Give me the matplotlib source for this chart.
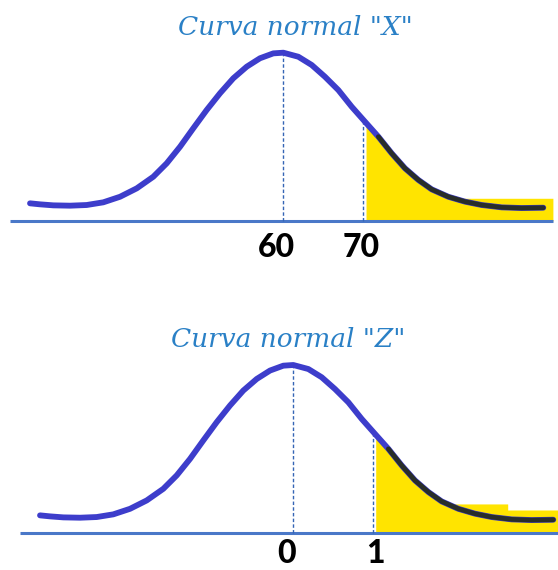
import matplotlib
matplotlib.use("Agg")
import matplotlib.pyplot as plt

# ---------------- data ----------------
# shape of the hand-drawn bell curve: relative height (peak = 1)
curve_height = [0.105, 0.099, 0.093, 0.091, 0.095, 0.111, 0.144, 0.194, 0.263,
                0.343, 0.441, 0.551, 0.660, 0.759, 0.848, 0.917, 0.967, 0.996,
                1.000, 0.976, 0.927, 0.857, 0.778, 0.679, 0.590, 0.501, 0.402,
                0.313, 0.244, 0.188, 0.144, 0.115, 0.095, 0.081, 0.077, 0.079]
# X scale (mean 60)
curve_x_X = [28.34, 29.59, 31.25, 33.34, 35.42, 37.50, 39.59, 41.68, 43.75,
             45.43, 47.09, 48.75, 50.43, 52.09, 53.75, 55.43, 57.09, 58.75,
             60.00, 61.88, 63.55, 65.21, 66.88, 68.55, 70.21, 71.88, 73.55,
             75.21, 76.88, 78.55, 80.63, 82.71, 84.80, 87.30, 89.80, 92.50]
# Z scale (mean 0)
curve_x_Z = [-3.166, -3.041, -2.875, -2.666, -2.458, -2.250, -2.041, -1.832,
             -1.625, -1.457, -1.291, -1.125, -0.957, -0.791, -0.625, -0.457,
             -0.291, -0.125, 0.0, 0.188, 0.355, 0.521, 0.688, 0.855, 1.021,
             1.188, 1.355, 1.521, 1.688, 1.855, 2.063, 2.271, 2.480, 2.730,
             2.980, 3.250]

# shaded (yellow) regions
shade_x_X = [70.34, 71.88, 73.55, 75.21, 76.88, 78.55, 80.63, 81.1, 93.7]
shade_top_X = [0.59, 0.501, 0.402, 0.313, 0.244, 0.188, 0.144, 0.135, 0.135]
shade_x_Z = [1.03, 1.188, 1.355, 1.521, 1.688, 1.855, 1.92, 2.68, 2.68, 3.31]
shade_top_Z = [0.59, 0.501, 0.402, 0.313, 0.244, 0.188, 0.173, 0.173, 0.137, 0.137]

# reference lines and labels
marks_X = [60, 70]
marks_X_height = [1.0, 0.61]
labels_X = ["60", "70"]
marks_Z = [0, 1]
marks_Z_height = [1.0, 0.60]
labels_Z = ["0", "1"]
title_X = 'Curva normal "X"'
title_Z = 'Curva normal "Z"'

# ---------------- styling ----------------
W, H = 558, 570
CURVE = "#3d3dcb"
DARK = "#262b12"
BASE = "#4a78c8"
DASH = "#3565b5"
YELLOW = "#ffe400"
TITLE = "#2a80c6"

fig = plt.figure(figsize=(W / 100, H / 100), dpi=100)
fig.patch.set_facecolor("white")


def make_panel(rect_px, x_at_px0, x_per_px, base_px, unit_px):
    """rect_px = (top, bottom) in figure pixels; returns axes and px->data helpers."""
    top, bottom = rect_px
    ax = fig.add_axes([0, 1 - bottom / H, 1, (bottom - top) / H])
    ax.set_xlim(x_at_px0, x_at_px0 + W * x_per_px)
    ax.set_ylim(-(bottom - base_px) / unit_px, (base_px - top) / unit_px)
    ax.axis("off")
    fx = lambda px: x_at_px0 + px * x_per_px
    fy = lambda py: (base_px - py) / unit_px
    return ax, fx, fy


def draw_panel(ax, fx, fy, cx, ch, sx, st, marks, mh, labels, label_dx,
               label_base_py, title, title_cx, title_base_py, base_from, base_to):
    # yellow shading
    ax.fill_between(sx, 0, st, color=YELLOW, lw=0, zorder=1)
    # baseline
    ax.plot([fx(base_from), fx(base_to)], [0, 0], color=BASE, lw=2.2,
            solid_capstyle="butt", zorder=2)
    # dashed verticals
    for m, h in zip(marks, mh):
        ax.plot([m, m], [0, h], color=DASH, lw=1.0, dashes=(2.5, 1.6), zorder=2)
    # curve
    ax.plot(cx, ch, color=CURVE, lw=4.2, solid_capstyle="round",
            solid_joinstyle="round", zorder=3)
    tail = [(x, y) for x, y in zip(cx, ch) if x >= sx[0]]
    ax.plot([t[0] for t in tail], [t[1] for t in tail], color=DARK, lw=3.4,
            solid_capstyle="round", solid_joinstyle="round", zorder=4, alpha=0.88)
    # labels
    for m, lab, dx in zip(marks, labels, label_dx):
        ax.text(m + dx, fy(label_base_py), lab, ha="center", va="baseline",
                fontsize=23, fontweight=900, family="Lato", color="black")
    ax.text(fx(title_cx), fy(title_base_py), title, ha="center", va="baseline",
            fontsize=19, style="italic", family="DejaVu Serif", color=TITLE)


# top panel: 60 at px 283.3, 8 px per unit; baseline at px 221
axX, fxX, fyX = make_panel((0, 285), 60 - 283.3 / 8, 1 / 8, 221, 168.3)
draw_panel(axX, fxX, fyX, curve_x_X, curve_height, shade_x_X, shade_top_X,
           marks_X, marks_X_height, labels_X, [-7 / 8, -2.5 / 8], 257,
           title_X, 295.5, 35, 10, 553)

# bottom panel: 0 at px 293.3, 80 px per unit; baseline at px 533
axZ, fxZ, fyZ = make_panel((285, 570), -293.3 / 80, 1 / 80, 533, 168.0)
draw_panel(axZ, fxZ, fyZ, curve_x_Z, curve_height, shade_x_Z, shade_top_Z,
           marks_Z, marks_Z_height, labels_Z, [-7 / 80, 2.5 / 80], 563,
           title_Z, 288.5, 347, 20, 558)

fig.savefig("out.png", dpi=100, facecolor="white")
